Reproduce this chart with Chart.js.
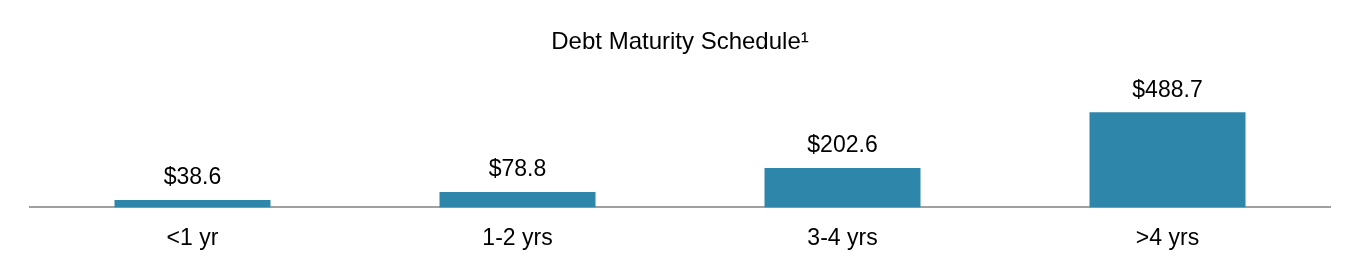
<!DOCTYPE html>
<html>
<head>
<meta charset="utf-8">
<title>Debt Maturity Schedule</title>
<script src="https://cdn.jsdelivr.net/npm/chart.js@4"></script>
<style>
    html, body { margin: 0; padding: 0; background: #fff; }
    #wrap { width: 1360px; height: 280px; }
</style>
</head>
<body>
<div id="wrap"><canvas id="debtChart" width="1360" height="280"></canvas></div>
<script>
// Data
const categories = ['<1 yr', '1-2 yrs', '3-4 yrs', '>4 yrs'];
const maturityValues = [38.6, 78.8, 202.6, 488.7];
const valueLabels = ['$38.6', '$78.8', '$202.6', '$488.7'];

const BAR_COLOR = '#2e86ab';
const FONT = '"Liberation Sans", Arial, Helvetica, sans-serif';

// Labels above the bars
const valueLabelPlugin = {
    id: 'valueLabels',
    afterDatasetsDraw(chart) {
        const ctx = chart.ctx;
        const meta = chart.getDatasetMeta(0);
        ctx.save();
        ctx.font = '23px ' + FONT;
        ctx.fillStyle = '#000';
        ctx.textAlign = 'center';
        ctx.textBaseline = 'middle';
        meta.data.forEach((bar, i) => {
            ctx.fillText(valueLabels[i], bar.x, bar.y - 22);
        });
        ctx.restore();
    }
};

document.addEventListener('DOMContentLoaded', function() {
    const ctx = document.getElementById('debtChart').getContext('2d');

    new Chart(ctx, {
        type: 'bar',
        data: {
            labels: categories,
            datasets: [{
                data: maturityValues,
                backgroundColor: BAR_COLOR,
                borderWidth: 0,
                categoryPercentage: 1,
                barPercentage: 0.48
            }]
        },
        options: {
            responsive: false,
            animation: false,
            devicePixelRatio: 1,
            layout: {
                padding: { left: 30, right: 30, top: 0, bottom: 11 }
            },
            plugins: {
                legend: { display: false },
                tooltip: { enabled: false },
                title: {
                    display: true,
                    text: 'Debt Maturity Schedule¹',
                    color: '#000',
                    font: { family: FONT, size: 24, weight: 'normal' },
                    padding: { top: 28, bottom: 11 }
                }
            },
            scales: {
                x: {
                    grid: { display: false, drawTicks: false },
                    border: { display: true, color: '#a0a0a0', width: 2 },
                    ticks: {
                        color: '#000',
                        padding: 17,
                        font: { family: FONT, size: 23 }
                    }
                },
                y: {
                    display: false,
                    min: 0,
                    max: 717
                }
            }
        },
        plugins: [valueLabelPlugin]
    });
});
</script>
</body>
</html>
